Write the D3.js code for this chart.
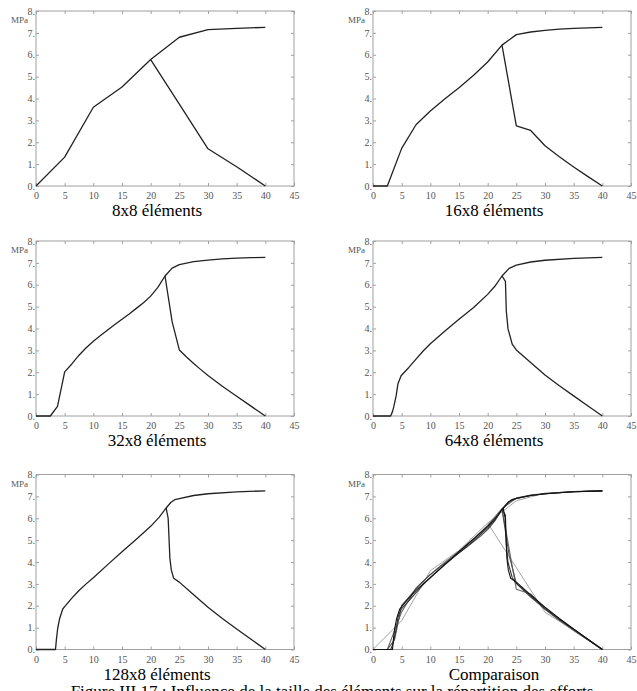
<!DOCTYPE html>
<html>
<head>
<meta charset="utf-8">
<script src="https://cdn.jsdelivr.net/npm/d3@7"></script>
<style>
  body { margin: 0; background: #fff; }
</style>
</head>
<body>
<div id="chart"></div>
<script>
/* DATA */
// each mesh: rising branch (upper) and falling branch after the peak (lower)
const mesh8Upper = [[0,0],[5,1.32],[10,3.6],[15,4.53],[20,5.78],[25,6.8],[30,7.15],[35,7.21],[40,7.25]];
const mesh8Lower = [[20,5.78],[25,3.74],[30,1.7],[35,0.88],[40,0]];

const mesh16Upper = [[0,0],[2.5,0],[5,1.72],[7.5,2.8],[10,3.43],[12.5,3.98],[15,4.49],[17.5,5.05],[20,5.67],[22.5,6.44],[25,6.92],[27.5,7.04],[30,7.11],[32.5,7.17],[35,7.21],[37.5,7.23],[40,7.25]];
const mesh16Lower = [[22.5,6.44],[25,2.75],[27.5,2.54],[30,1.84],[32.5,1.34],[35,0.87],[37.5,0.43],[40,0]];

const mesh32Upper = [[0,0],[1.25,0],[2.5,0],[3.75,0.44],[5,2.02],[6.25,2.38],[7.5,2.78],[8.75,3.12],[10,3.42],[11.25,3.68],[12.5,3.93],[13.75,4.18],[15,4.42],[16.25,4.66],[17.5,4.92],[18.75,5.18],[20,5.48],[21.25,5.88],[22.5,6.4],[23.75,6.76],[25,6.92],[27.5,7.06],[30,7.13],[32.5,7.18],[35,7.22],[37.5,7.24],[40,7.25]];
const mesh32Lower = [[22.5,6.4],[23.75,4.3],[25,3.02],[26.25,2.7],[27.5,2.4],[28.75,2.12],[30,1.85],[32.5,1.36],[35,0.9],[37.5,0.45],[40,0]];

const mesh64Upper = [[0,0],[3.07,0],[3.4,0.2],[3.64,0.44],[4.05,0.94],[4.34,1.46],[4.9,1.84],[6.25,2.22],[7.5,2.6],[8.75,2.97],[10,3.3],[12.5,3.87],[15,4.42],[17.5,4.95],[20,5.56],[21.25,5.93],[22.5,6.4],[23.75,6.75],[25,6.9],[27.5,7.04],[30,7.12],[35,7.21],[40,7.25]];
const mesh64Lower = [[22.5,6.4],[23.1,6.15],[23.25,4.8],[23.55,3.98],[24.3,3.27],[25,3.02],[27.5,2.45],[30,1.87],[32.5,1.38],[35,0.92],[37.5,0.46],[40,0]];

const mesh128Upper = [[0,0],[3.4,0],[3.55,0.43],[3.78,0.96],[4.13,1.42],[4.66,1.85],[5,1.96],[6.25,2.35],[7.5,2.7],[8.75,3.0],[10,3.28],[12.5,3.88],[15,4.47],[17.5,5.04],[20,5.63],[21.5,6.05],[22.7,6.47],[23.5,6.72],[24.2,6.85],[25,6.9],[27.5,7.04],[30,7.12],[35,7.21],[40,7.25]];
const mesh128Lower = [[22.7,6.47],[23.05,6.0],[23.2,5.1],[23.35,4.17],[23.6,3.64],[24,3.26],[25,3.08],[27.5,2.5],[30,1.93],[32.5,1.42],[35,0.94],[37.5,0.47],[40,0]];

const meshNames = ["8x8 éléments", "16x8 éléments", "32x8 éléments", "64x8 éléments", "128x8 éléments"];
const meshSeries = [
  [mesh8Upper, mesh8Lower],
  [mesh16Upper, mesh16Lower],
  [mesh32Upper, mesh32Lower],
  [mesh64Upper, mesh64Lower],
  [mesh128Upper, mesh128Lower]
];
const comparisonTitle = "Comparaison";
const comparisonColors = ["#9a9a9a", "#6a6a6a", "#505050", "#333", "#111"];

const xTicks = [0, 5, 10, 15, 20, 25, 30, 35, 40, 45];
const yTicks = [0, 1, 2, 3, 4, 5, 6, 7, 8];
const yUnit = "MPa";
const caption = "Figure III.17 : Influence de la taille des éléments sur la répartition des efforts";

/* LAYOUT */
const width = 637, height = 691;
const colLeft = [36, 373];
const rowTop = [11, 241, 474.5];
const plotW = 258, plotH = 175;
const titleOffset = 30; // baseline below plot bottom
const serif = "Liberation Serif"; // single name: font lists fall back to sans here

const svg = d3.select("#chart").append("svg")
  .attr("width", width)
  .attr("height", height)
  .attr("font-family", serif);

const lineGen = d3.line()
  .x(d => d[0])
  .y(d => d[1]);

function drawPanel(i, title, seriesList, colors, widths) {
  const left = colLeft[i % 2];
  const top = rowTop[Math.floor(i / 2)];

  const x = d3.scaleLinear().domain([0, 45]).range([left, left + plotW]);
  const y = d3.scaleLinear().domain([0, 8]).range([top + plotH, top]);

  const g = svg.append("g").attr("class", "panel");

  // frame
  g.append("rect")
    .attr("x", left).attr("y", top)
    .attr("width", plotW).attr("height", plotH)
    .attr("fill", "none")
    .attr("stroke", "#a0a0a0")
    .attr("stroke-width", 1);

  // inward ticks on all sides
  const axisColor = "#a0a0a0";
  const bottomAxis = d3.axisBottom(x).tickValues(xTicks).tickSize(-3).tickPadding(6);
  const topAxis = d3.axisTop(x).tickValues(xTicks).tickSize(-3).tickFormat("");
  const leftAxis = d3.axisLeft(y).tickValues(yTicks).tickSize(-3).tickPadding(1).tickFormat(d => d + ".");
  const rightAxis = d3.axisRight(y).tickValues(yTicks).tickSize(-3).tickFormat("");

  const axes = [
    [bottomAxis, `translate(0,${top + plotH})`],
    [topAxis, `translate(0,${top})`],
    [leftAxis, `translate(${left},0)`],
    [rightAxis, `translate(${left + plotW},0)`]
  ];
  axes.forEach(([ax, tr]) => {
    const a = g.append("g").attr("transform", tr).call(ax);
    a.select(".domain").remove();
    a.selectAll("line").attr("stroke", axisColor);
    a.selectAll("text")
      .attr("fill", "#555")
      .attr("font-family", serif)
      .attr("font-size", 10);
  });

  // unit label
  g.append("text")
    .attr("x", left - 8)
    .attr("y", top + 12)
    .attr("text-anchor", "end")
    .attr("fill", "#555")
    .attr("font-family", serif)
    .attr("font-size", 9)
    .text(yUnit);

  // curves
  seriesList.forEach((s, k) => {
    g.append("path")
      .attr("d", lineGen(s.map(p => [x(p[0]), y(p[1])])))
      .attr("fill", "none")
      .attr("stroke", colors[k])
      .attr("stroke-width", widths[k])
      .attr("stroke-linejoin", "round");
  });

  // panel title
  g.append("text")
    .attr("x", left + plotW / 2 - 8)
    .attr("y", top + plotH + titleOffset)
    .attr("text-anchor", "middle")
    .attr("fill", "#000")
    .attr("font-family", serif)
    .attr("font-size", 17)
    .text(title);
}

meshSeries.forEach((pair, i) => {
  drawPanel(i, meshNames[i], pair, ["#222", "#222"], [1.3, 1.3]);
});

// comparison panel: all meshes overlaid
const allSeries = [], allColors = [], allWidths = [];
meshSeries.forEach((pair, i) => {
  pair.forEach(s => {
    allSeries.push(s);
    allColors.push(comparisonColors[i]);
    allWidths.push(i === 0 ? 0.9 : 1.1);
  });
});
drawPanel(5, comparisonTitle, allSeries, allColors, allWidths);

// figure caption (the reference shows it cut by the bottom edge)
svg.append("text")
  .attr("x", 332)
  .attr("y", 697)
  .attr("text-anchor", "middle")
  .attr("fill", "#000")
  .attr("font-family", serif)
  .attr("font-size", 17)
  .text(caption);
</script>
</body>
</html>
